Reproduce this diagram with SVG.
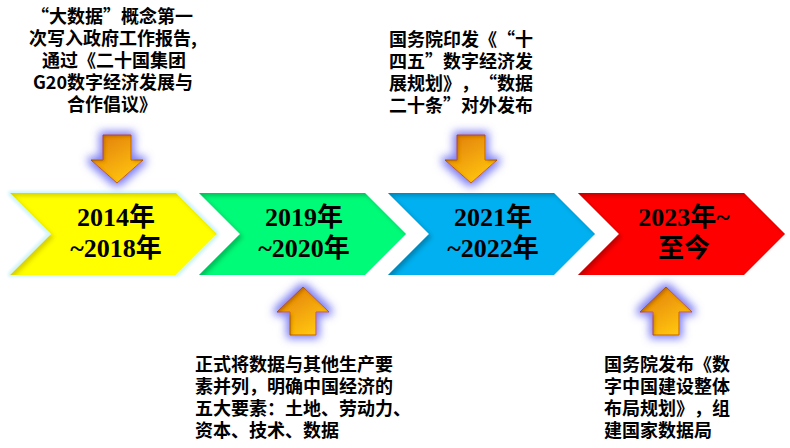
<svg xmlns="http://www.w3.org/2000/svg" width="790" height="448" viewBox="0 0 790 448">
<style>
text{text-spacing-trim:space-all}
.yr{font-family:"Liberation Serif","Noto Sans CJK SC",serif;font-weight:bold;font-size:26px;fill:#000;text-anchor:middle}
.note{font-family:"Noto Sans CJK SC","Noto Sans",sans-serif;font-weight:bold;font-size:18px;fill:#000}
.arrow{stroke:#C8640A;stroke-width:1;fill:url(#ag)}
</style>
<defs>
<linearGradient id="ag" x1="0" y1="0" x2="0.6" y2="1">
<stop offset="0" stop-color="#E07A08"/>
<stop offset="1" stop-color="#FFC412"/>
</linearGradient>
<filter id="inner" x="-10%" y="-10%" width="120%" height="120%">
<feOffset in="SourceAlpha" dx="3" dy="3" result="o"/>
<feGaussianBlur in="o" stdDeviation="2" result="b"/>
<feComposite in="SourceAlpha" in2="b" operator="out" result="inv"/>
<feFlood flood-color="#000" flood-opacity="0.45"/>
<feComposite in2="inv" operator="in" result="sh"/>
<feMerge><feMergeNode in="SourceGraphic"/><feMergeNode in="sh"/></feMerge>
</filter>
<filter id="yglow" x="-10%" y="-20%" width="120%" height="140%">
<feMorphology in="SourceAlpha" operator="dilate" radius="2" result="d"/>
<feGaussianBlur in="d" stdDeviation="1.5" result="b"/>
<feFlood flood-color="#CFF4F8"/>
<feComposite in2="b" operator="in" result="g"/>
<feOffset in="SourceAlpha" dx="3" dy="3" result="o"/>
<feGaussianBlur in="o" stdDeviation="2" result="ob"/>
<feComposite in="SourceAlpha" in2="ob" operator="out" result="inv"/>
<feFlood flood-color="#806000" flood-opacity="0.4"/>
<feComposite in2="inv" operator="in" result="sh"/>
<feMerge><feMergeNode in="g"/><feMergeNode in="SourceGraphic"/><feMergeNode in="sh"/></feMerge>
</filter>
<filter id="aglow" x="-50%" y="-50%" width="200%" height="200%">
<feMorphology in="SourceAlpha" operator="dilate" radius="3" result="d"/>
<feGaussianBlur in="d" stdDeviation="4" result="b"/>
<feFlood flood-color="#7C7CF2"/>
<feComposite in2="b" operator="in" result="g"/>
<feOffset in="SourceAlpha" dx="2" dy="2" result="o"/>
<feGaussianBlur in="o" stdDeviation="1.5" result="ob"/>
<feComposite in="SourceAlpha" in2="ob" operator="out" result="inv"/>
<feFlood flood-color="#7A3A00" flood-opacity="0.5"/>
<feComposite in2="inv" operator="in" result="sh"/>
<feMerge><feMergeNode in="g"/><feMergeNode in="SourceGraphic"/><feMergeNode in="sh"/></feMerge>
</filter>
</defs>
<rect width="790" height="448" fill="#fff"/>

<g id="stage-2014">
<polygon points="10,193 176,193 217,234 176,275 10,275 51,234" fill="#FFFF00" filter="url(#yglow)"/>
<text class="yr" x="116" y="226">2014年</text>
<text class="yr" x="116" y="257">~2018年</text>
</g>
<g id="stage-2019">
<polygon points="199,193 365,193 406,234 365,275 199,275 240,234" fill="#05FB78" filter="url(#inner)"/>
<text class="yr" x="304" y="226">2019年</text>
<text class="yr" x="304" y="257">~2020年</text>
</g>
<g id="stage-2021">
<polygon points="388,193 554,193 595,234 554,275 388,275 429,234" fill="#00B0F0" filter="url(#inner)"/>
<text class="yr" x="493" y="226">2021年</text>
<text class="yr" x="493" y="257">~2022年</text>
</g>
<g id="stage-2023">
<polygon points="578,193 744,193 785,234 744,275 578,275 619,234" fill="#FF0000" filter="url(#inner)"/>
<text class="yr" x="684" y="226">2023年~</text>
<text class="yr" x="684" y="257">至今</text>
</g>

<g id="connectors">
<path class="arrow" filter="url(#aglow)" d="M103,135 H131 V160 H143 L117,183 L91,160 H103 Z"/>
<path class="arrow" filter="url(#aglow)" d="M457,135 H485 V160 H497 L471,183 L445,160 H457 Z"/>
<path class="arrow" filter="url(#aglow)" d="M303,287 L329,312 H316 V335 H290 V312 H277 Z"/>
<path class="arrow" filter="url(#aglow)" d="M666,287 L692,312 H679 V335 H653 V312 H640 Z"/>
</g>

<g id="note-2014" class="note" text-anchor="middle">
<text x="112" y="23">“大数据”概念第一</text>
<text x="113" y="45">次写入政府工作报告,</text>
<text x="114" y="67">通过《二十国集团</text>
<text x="113" y="89">G20数字经济发展与</text>
<text x="112" y="111">合作倡议》</text>
</g>
<g id="note-2021" class="note">
<text x="389" y="46">国务院印发《“十</text>
<text x="389" y="68">四五”数字经济发</text>
<text x="389" y="90">展规划》，“数据</text>
<text x="389" y="112">二十条”对外发布</text>
</g>
<g id="note-2019" class="note">
<text x="195" y="371">正式将数据与其他生产要</text>
<text x="195" y="393">素并列，明确中国经济的</text>
<text x="195" y="415">五大要素：土地、劳动力、</text>
<text x="195" y="437">资本、技术、数据</text>
</g>
<g id="note-2023" class="note">
<text x="604" y="371">国务院发布《数</text>
<text x="604" y="393">字中国建设整体</text>
<text x="604" y="415">布局规划》，组</text>
<text x="604" y="437">建国家数据局</text>
</g>
</svg>
